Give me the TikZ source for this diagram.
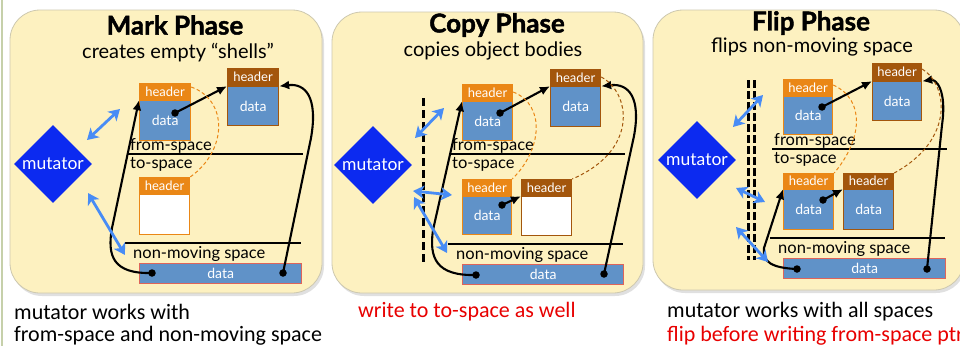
\documentclass[tikz,border=0pt]{standalone}
\usepackage{fontspec}
\setmainfont{Lato}
\newfontfamily\titlefont{Lato}[BoldFeatures={FakeBold=1.6}]
\newfontfamily\capfont{Carlito}
\usetikzlibrary{shapes.geometric,arrows.meta}

\definecolor{panelfill}{RGB}{253,241,192}
\definecolor{panelline}{RGB}{205,200,175}
\definecolor{objorange}{RGB}{234,135,22}
\definecolor{objbrown}{RGB}{163,86,12}
\definecolor{steel}{RGB}{96,146,200}
\definecolor{barline}{RGB}{222,100,90}
\definecolor{mutblue}{RGB}{12,42,240}
\definecolor{refblue}{RGB}{72,140,245}
\definecolor{capred}{RGB}{232,0,0}
\definecolor{edgegreen}{RGB}{198,208,170}

\tikzset{
  panel/.style={fill=panelfill, draw=panelline, line width=0.8pt, rounded corners=30pt},
  shadowbox/.style={fill=black, opacity=0.12, rounded corners=30pt},
  title/.style={font=\titlefont\fontsize{26}{28}\selectfont\bfseries},
  subtitle/.style={font=\fontsize{20}{22}\selectfont},
  spacelabel/.style={font=\fontsize{16.5}{17}\selectfont, anchor=west, inner sep=0pt},
  mutator/.style={diamond, aspect=1, fill=mutblue, minimum width=78pt, minimum height=78pt,
    inner sep=0pt, text=white, font=\fontsize{17.5}{18}\selectfont},
  hdr/.style={fill=#1, draw=#1, line width=1.2pt, inner sep=0pt, anchor=north west,
    text=white, font=\fontsize{13}{13}\selectfont},
  body/.style={draw=#1, line width=1.2pt, inner sep=0pt, anchor=north west,
    text=white, font=\fontsize{14}{14}\selectfont},
  bar/.style={fill=steel, draw=barline, line width=1.4pt, inner sep=0pt, anchor=north west,
    text=white, font=\fontsize{14}{14}\selectfont},
  sep/.style={line width=1.1pt},
  dot/.style={circle, fill=black, inner sep=0pt, minimum size=7.5pt},
  ptr/.style={line width=2.1pt, -{Latex[length=10pt,width=9pt]}},
  fwd/.style={draw=objorange, line width=1pt, dash pattern=on 3.5pt off 2.5pt},
  fwdb/.style={draw=objbrown, line width=1pt, dash pattern=on 3.5pt off 2.5pt},
  access/.style={draw=refblue, line width=2.8pt,
    {Stealth[length=11pt,width=13pt,inset=3pt]}-{Stealth[length=11pt,width=13pt,inset=3pt]}},
  barrier/.style={line width=3pt, dash pattern=on 8pt off 4pt},
  barrierthin/.style={line width=2.4pt, dash pattern=on 8pt off 3pt},
  caption/.style={font=\capfont\fontsize{22}{24}\selectfont, anchor=west, inner sep=0pt},
}

% object: name, x, top, width, header height, body height, colour, body fill, body text
\newcommand\objbox[9]{%
  \node[hdr=#7, minimum width=#4pt, minimum height=#5pt] (#1h) at (#2,#3) {header};
  \node[body=#7, fill=#8, minimum width=#4pt, minimum height=#6pt] (#1b) at (#1h.south west) {#9};
}

\begin{document}
\begin{tikzpicture}[x=1pt,y=-1pt]
\useasboundingbox (0,0) rectangle (960,346);
\fill[white] (0,0) rectangle (960,346);
\draw[edgegreen, line width=1.5pt] (2,0) -- (2,346);

% ---------------- Mark phase ----------------
\fill[shadowbox] (12,13) rectangle (324,296);
\draw[panel] (10,10) rectangle (322,293);
\node[title] (t1) at (175,25) {Mark Phase};
\node[subtitle] (s1) at (178,53) {creates empty “shells”};
\node[mutator] (m1) at (53,164) {mutator};

\objbox{a1}{139}{83}{51}{16}{40}{objorange}{steel}{data}
\objbox{b1}{227}{68}{51}{17}{39}{objbrown}{steel}{data}
\objbox{c1}{139}{177}{50}{16}{40}{objorange}{white}{}

\coordinate (f1l) at (128,154); \coordinate (f1r) at (303,154);
\draw[sep] (f1l) -- (f1r);
\node[spacelabel] (fs1) at (130,145.5) {from-space};
\node[spacelabel] (ts1) at (130,164.5) {to-space};
\coordinate (n1l) at (125,243); \coordinate (n1r) at (301,243);
\draw[sep] (n1l) -- (n1r);
\node[spacelabel] (ns1) at (133,254) {non-moving space};
\node[bar, minimum width=162pt, minimum height=20pt] (bar1) at (139,263) {data};

\node[dot] (pa1) at (175,113) {};
\node[dot] (pl1) at (152,273) {};
\node[dot] (pr1) at (283,273) {};
\draw[ptr] (pa1.center) -- (b1h.south west);
\draw[ptr] (pl1.center) .. controls (113,274) and (107,256) .. (112,228) -- (a1h.south west);
\draw[ptr] (pr1.center) -- (311,138) .. controls (318,98) and (306,83) .. (b1h.south east);
\draw[fwd] (a1h.north east) ++(0,4) .. controls (228,100) and (228,150) .. (c1h.north east);

\coordinate (u1a) at (87,140); \coordinate (u1b) at (120,109);
\coordinate (v1a) at (88,193); \coordinate (v1b) at (125,255);
\draw[access] (u1a) -- (u1b);
\draw[access] (v1a) -- (v1b);

% ---------------- Copy phase ----------------
\fill[shadowbox] (334,15) rectangle (645,296);
\draw[panel] (332,12) rectangle (643,293);
\node[title] (t2) at (497,25) {Copy Phase};
\node[subtitle] (s2) at (493,51) {copies object bodies};
\node[mutator] (m2) at (373,165) {mutator};
\coordinate (w2t) at (423,98); \coordinate (w2b) at (423,265);
\draw[barrier] (w2t) -- (w2b);

\objbox{a2}{462}{84}{50}{16}{39}{objorange}{steel}{data}
\objbox{b2}{550}{69}{50}{16}{40}{objbrown}{steel}{data}
\objbox{c2}{462}{179}{49}{16}{38}{objorange}{steel}{data}
\objbox{d2}{521}{179}{50}{16}{39}{objbrown}{white}{}

\coordinate (f2l) at (450,154); \coordinate (f2r) at (625,154);
\draw[sep] (f2l) -- (f2r);
\node[spacelabel] (fs2) at (452,145.5) {from-space};
\node[spacelabel] (ts2) at (452,164.5) {to-space};
\coordinate (n2l) at (448,244); \coordinate (n2r) at (623,244);
\draw[sep] (n2l) -- (n2r);
\node[spacelabel] (ns2) at (456,255) {non-moving space};
\node[bar, minimum width=161pt, minimum height=20pt] (bar2) at (462,264) {data};

\node[dot] (pa2) at (500,113) {};
\node[dot] (pc2) at (502,205) {};
\node[dot] (pl2) at (476,275) {};
\node[dot] (pr2) at (604,274) {};
\draw[ptr] (pa2.center) -- (b2h.south west);
\draw[ptr] (pc2.center) -- (d2h.south west);
\draw[ptr] (pl2.center) .. controls (436,276) and (429,258) .. (433,230) -- (a2h.south west);
\draw[ptr] (pr2.center) -- (634,136) .. controls (641,98) and (629,83) .. (b2h.south east);
\draw[fwd] (a2h.north east) ++(0,8) .. controls (546,105) and (542,150) .. (c2h.north east);
\draw[fwdb] (b2h.north east) ++(0,8) .. controls (630,92) and (640,150) .. (d2h.north east);

\coordinate (u2a) at (415,138); \coordinate (u2b) at (444,108);
\coordinate (x2a) at (413,191); \coordinate (x2b) at (452,195);
\coordinate (v2a) at (414,197); \coordinate (v2b) at (447,253);
\draw[access] (u2a) -- (u2b);
\draw[access] (x2a) -- (x2b);
\draw[access] (v2a) -- (v2b);

% ---------------- Flip phase ----------------
\fill[shadowbox] (655,13) rectangle (966,293);
\draw[panel] (653,10) rectangle (964,290);
\node[title] (t3) at (811,23) {Flip Phase};
\node[subtitle] (s3) at (812,47) {flips non-moving space};
\node[mutator] (m3) at (697,160) {mutator};
\coordinate (w3t) at (748.5,80); \coordinate (w3b) at (748.5,260);
\coordinate (w4t) at (754.5,80); \coordinate (w4b) at (754.5,260);
\draw[barrierthin] (w3t) -- (w3b);
\draw[barrierthin] (w4t) -- (w4b);

\objbox{a3}{783}{79}{49}{16}{38}{objorange}{steel}{data}
\objbox{b3}{872}{63}{49}{17}{39}{objbrown}{steel}{data}
\objbox{c3}{783}{173}{50}{15}{40}{objorange}{steel}{data}
\objbox{d3}{843}{173}{50}{15}{40}{objbrown}{steel}{data}

\coordinate (f3l) at (772,149); \coordinate (f3r) at (947,149);
\draw[sep] (f3l) -- (f3r);
\node[spacelabel] (fs3) at (774,140.5) {from-space};
\node[spacelabel] (ts3) at (774,159) {to-space};
\coordinate (n3l) at (770,238); \coordinate (n3r) at (945,238);
\draw[sep] (n3l) -- (n3r);
\node[spacelabel] (ns3) at (778,249) {non-moving space};
\node[bar, minimum width=162pt, minimum height=20pt] (bar3) at (783,258) {data};

\node[dot] (pa3) at (822,107) {};
\node[dot] (pc3) at (823,200) {};
\node[dot] (pl3) at (797,269) {};
\node[dot] (pr3) at (927,269) {};
\draw[ptr] (pa3.center) -- (b3h.south west);
\draw[ptr] (pc3.center) -- (d3h.south west);
\draw[ptr] (pl3.center) .. controls (772,268) and (762,262) .. (764,248) -- (c3h.south west);
\draw[ptr] (pr3.center) -- (942,125) .. controls (947,90) and (936,79) .. (b3h.south east);
\draw[fwd] (a3h.north east) ++(0,6) .. controls (866,100) and (862,140) .. (c3h.north east);
\draw[fwdb] (b3h.north east) ++(0,6) .. controls (948,85) and (955,140) .. (d3h.north east);

\coordinate (u3a) at (733,127); \coordinate (u3b) at (763,95);
\coordinate (x3a) at (736,188); \coordinate (x3b) at (765,202);
\coordinate (v3a) at (736,227); \coordinate (v3b) at (768,262);
\draw[access] (u3a) -- (u3b);
\draw[access] (x3a) -- (x3b);
\draw[access] (v3a) -- (v3b);

% ---------------- captions ----------------
\node[caption] (cap1a) at (14,312) {mutator works with};
\node[caption] (cap1b) at (14,336) {from-space and non-moving space};
\node[caption, text=capred] (cap2) at (358,312) {write to to-space as well};
\node[caption] (cap3a) at (667,312) {mutator works with all spaces};
\node[caption, text=capred] (cap3b) at (667,336) {flip before writing from-space ptr};
\end{tikzpicture}
\end{document}
